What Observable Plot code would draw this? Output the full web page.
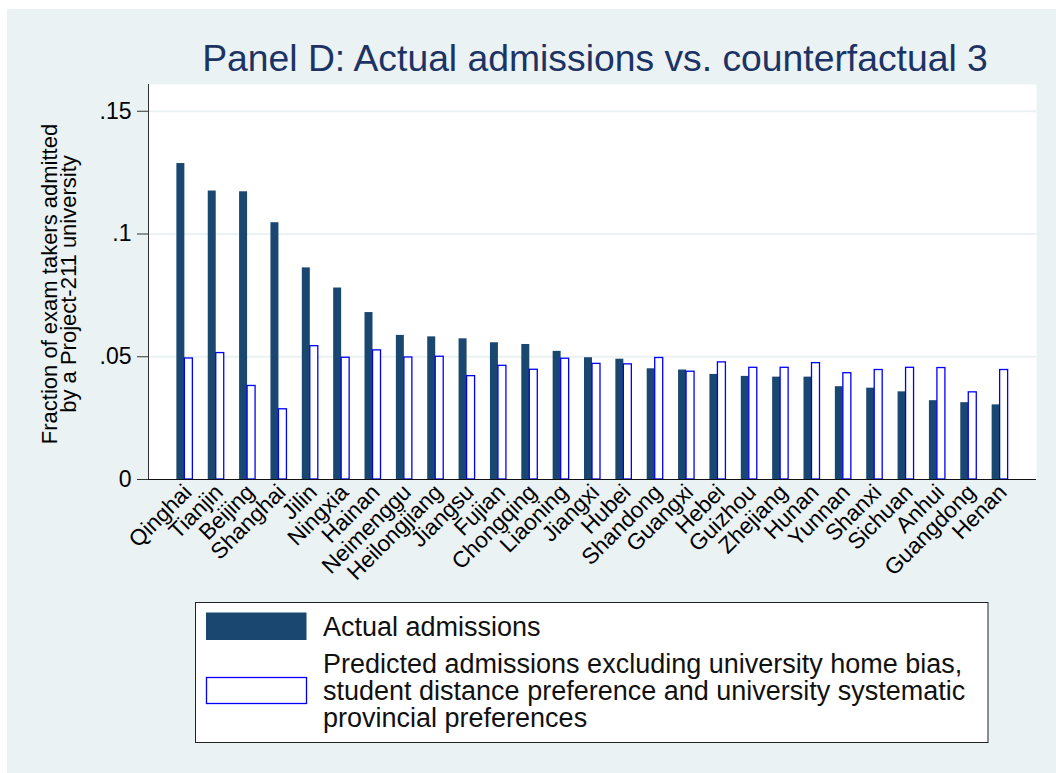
<!DOCTYPE html>
<html>
<head>
<meta charset="utf-8">
<script src="https://cdn.jsdelivr.net/npm/d3@7"></script>
<script src="https://cdn.jsdelivr.net/npm/@observablehq/plot@0.6"></script>
<style>
  body { margin: 0; background: #ffffff; }
  #wrap { position: relative; width: 1056px; height: 773px; overflow: hidden;
          font-family: "Liberation Sans", Arial, Helvetica, sans-serif; }
  #bg { position: absolute; left: 7px; top: 9px; right: 0; bottom: 0; background: #eaf2f3; }
  #chart, #overlay { position: absolute; left: 0; top: 0; }
</style>
</head>
<body>
<div id="wrap">
  <div id="bg"></div>
  <div id="chart"></div>
  <svg id="overlay" width="1056" height="773"></svg>
</div>
<script>
// Provinces, sorted by actual admission rate
const provinces = ["Qinghai","Tianjin","Beijing","Shanghai","Jilin","Ningxia","Hainan","Neimenggu",
  "Heilongjiang","Jiangsu","Fujian","Chongqing","Liaoning","Jiangxi","Hubei","Shandong","Guangxi",
  "Hebei","Guizhou","Zhejiang","Hunan","Yunnan","Shanxi","Sichuan","Anhui","Guangdong","Henan"];

// Fraction of exam takers admitted by a Project-211 university
const actual = [0.1287,0.1175,0.1172,0.1046,0.0862,0.0780,0.0680,0.0587,
  0.0581,0.0573,0.0557,0.0550,0.0522,0.0496,0.0490,0.0451,0.0446,
  0.0428,0.0420,0.0417,0.0417,0.0378,0.0372,0.0357,0.0321,0.0313,0.0304];

// Counterfactual 3 prediction
const predicted = [0.0493,0.0515,0.0381,0.0286,0.0543,0.0496,0.0526,0.0497,
  0.0500,0.0421,0.0463,0.0447,0.0492,0.0471,0.0469,0.0495,0.0439,
  0.0477,0.0455,0.0455,0.0474,0.0433,0.0446,0.0455,0.0454,0.0355,0.0446];

const yTicks = [0, 0.05, 0.1, 0.15];
const yTickLabels = ["0", ".05", ".1", ".15"];

const seriesNames = ["Actual admissions",
  "Predicted admissions excluding university home bias,\nstudent distance preference and university systematic\nprovincial preferences"];

const navy = "#1a476f";
const blue = "#0000ff";
const bgColor = "#eaf2f3";
const font = "'Liberation Sans', Arial, Helvetica, sans-serif";

const rows = provinces.map((p, i) => ({province: p, actual: actual[i], predicted: predicted[i]}));

const chart = Plot.plot({
  width: 1056,
  height: 773,
  marginLeft: 148,
  marginRight: 20,
  marginTop: 84,
  marginBottom: 294,
  style: {background: "transparent", fontFamily: font, color: "#000", overflow: "visible"},
  x: {domain: provinces, paddingInner: 0.49, paddingOuter: 0.905, round: false, label: null},
  y: {domain: [0, 0.1609], label: null},
  marks: [
    Plot.frame({fill: "white", stroke: "none"}),
    Plot.gridY(yTicks.slice(1), {stroke: bgColor, strokeOpacity: 1, strokeWidth: 2}),
    Plot.barY(rows, {x: "province", y: "actual", fill: navy, insetRight: 8}),
    Plot.barY(rows, {x: "province", y: "predicted", fill: "white", stroke: blue, strokeWidth: 1.3, insetLeft: 8}),
    Plot.frame({anchor: "left", stroke: "#333"}),
    Plot.ruleY([0], {stroke: "#111", strokeWidth: 1.2, insetLeft: -11}),
    Plot.axisY({
      ticks: yTicks,
      tickFormat: d => yTickLabels[yTicks.indexOf(d)],
      tickSize: 11,
      tickPadding: 6,
      fontSize: 23,
      stroke: "#333",
      label: null
    }),
    Plot.axisX({
      tickRotate: -45,
      tickSize: 0,
      tickPadding: 9,
      dx: 3,
      fontSize: 22.5,
      label: null
    })
  ]
});
document.getElementById("chart").appendChild(chart);

// Title, y-axis title and legend
const svg = d3.select("#overlay").style("font-family", font);

svg.append("text")
  .attr("x", 595).attr("y", 71)
  .attr("text-anchor", "middle")
  .attr("font-size", 37.3)
  .attr("fill", "#1c3364")
  .text("Panel D: Actual admissions vs. counterfactual 3");

const yTitleLines = ["Fraction of exam takers admitted", "by a Project-211 university"];
yTitleLines.forEach((s, i) => {
  svg.append("text")
    .attr("transform", `translate(${57 + i * 19},284) rotate(-90)`)
    .attr("text-anchor", "middle")
    .attr("font-size", 22)
    .attr("fill", "#000")
    .text(s);
});

const legend = svg.append("g");
legend.append("rect")
  .attr("x", 195.5).attr("y", 602.5).attr("width", 792.5).attr("height", 140)
  .attr("fill", "white").attr("stroke", "#222").attr("stroke-width", 1);
legend.append("rect")
  .attr("x", 206).attr("y", 612.5).attr("width", 100.5).attr("height", 27.5)
  .attr("fill", navy);
legend.append("rect")
  .attr("x", 206.5).attr("y", 677.5).attr("width", 100).attr("height", 26)
  .attr("fill", "white").attr("stroke", blue).attr("stroke-width", 1.3);

legend.append("text")
  .attr("x", 323).attr("y", 636)
  .attr("font-size", 27).attr("fill", "#111")
  .text(seriesNames[0]);

seriesNames[1].split("\n").forEach((s, i) => {
  legend.append("text")
    .attr("x", 323).attr("y", 673 + i * 26.8)
    .attr("font-size", 27).attr("fill", "#111")
    .text(s);
});
</script>
</body>
</html>
